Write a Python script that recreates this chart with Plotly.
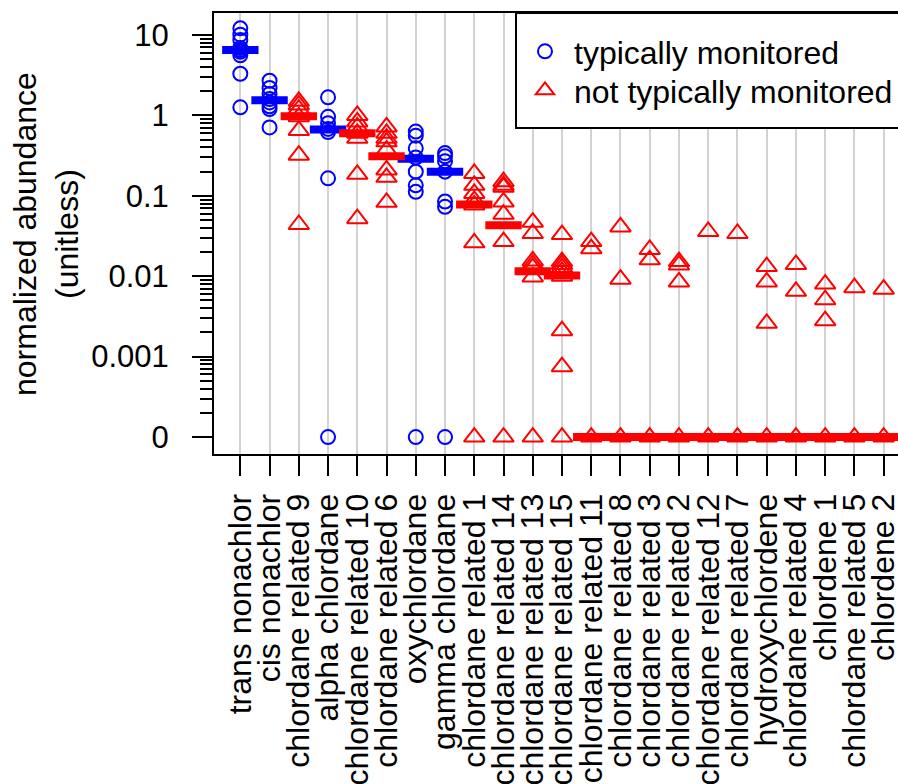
import plotly.graph_objects as go

# ---------------- data ----------------
categories = ["trans nonachlor", "cis nonachlor", "chlordane related 9", "alpha chlordane",
              "chlordane related 10", "chlordane related 6", "oxychlordane", "gamma chlordane",
              "chlordane related 1", "chlordane related 14", "chlordane related 13",
              "chlordane related 15", "chlordane related 11", "chlordane related 8",
              "chlordane related 3", "chlordane related 2", "chlordane related 12",
              "chlordane related 7", "hydroxychlordene", "chlordane related 4",
              "chlordene 1", "chlordane related 5", "chlordene 2"]

# group: True = typically monitored
typically_monitored = [True, True, False, True, False, False, True, True,
                       False, False, False, False, False, False, False, False,
                       False, False, False, False, False, False, False]

values = [
    [12.1, 10.1, 8.7, 6.9, 6.5, 6.2, 5.6, 3.3, 1.26],          # trans nonachlor
    [2.7, 2.2, 1.85, 1.6, 1.45, 1.3, 1.2, 0.71],               # cis nonachlor
    [1.5, 1.35, 1.2, 0.96, 0.65, 0.32, 0.044],                 # chlordane related 9
    [1.68, 0.96, 0.8, 0.68, 0.62, 0.165, 0],                   # alpha chlordane
    [1.0, 0.83, 0.72, 0.6, 0.52, 0.185, 0.052],                # chlordane related 10
    [0.72, 0.6, 0.52, 0.47, 0.37, 0.21, 0.17, 0.083],          # chlordane related 6
    [0.63, 0.56, 0.39, 0.3, 0.2, 0.135, 0.112, 0],             # oxychlordane
    [0.34, 0.31, 0.27, 0.2, 0.085, 0.073, 0],                  # gamma chlordane
    [0.19, 0.135, 0.107, 0.088, 0.077, 0.026, 0],              # chlordane related 1
    [0.15, 0.135, 0.128, 0.084, 0.059, 0.027, 0],              # chlordane related 14
    [0.047, 0.034, 0.0155, 0.014, 0.0128, 0.0098, 0],          # chlordane related 13
    [0.033, 0.0152, 0.014, 0.0128, 0.0115, 0.01, 0.0021, 0.00075, 0],  # chlordane related 15
    [0.027, 0.022, 0],                                         # chlordane related 11
    [0.041, 0.0092, 0],                                        # chlordane related 8
    [0.0215, 0.016, 0],                                        # chlordane related 3
    [0.0152, 0.0138, 0.0085, 0],                               # chlordane related 2
    [0.036, 0],                                                # chlordane related 12
    [0.034, 0],                                                # chlordane related 7
    [0.0132, 0.0085, 0.0026, 0],                               # hydroxychlordene
    [0.014, 0.0065, 0],                                        # chlordane related 4
    [0.008, 0.0051, 0.0028, 0],                                # chlordene 1
    [0.0072, 0],                                               # chlordane related 5
    [0.0069, 0],                                               # chlordene 2
]

medians = [6.5, 1.55, 0.98, 0.67, 0.6, 0.31, 0.29, 0.2, 0.078, 0.043, 0.0115, 0.0102,
           0, 0, 0, 0, 0, 0, 0, 0, 0, 0, 0]

tick_values = [0, 0.001, 0.01, 0.1, 1, 10]
tick_labels = ["0", "0.001", "0.01", "0.1", "1", "10"]

ZERO_POS = 1e-4  # where "0" is drawn on the log axis


def to_axis(v):
    return ZERO_POS if v == 0 else v


BLUE = "#0000FF"
RED = "#FF0000"
FONT = "Liberation Sans, Arial, Helvetica, sans-serif"

W, H = 898, 784
ML, MR, MT, MB = 214, 0, 13, 330
PW, PH = W - ML - MR, H - MT - MB


def px_x(p):
    return (p - ML) / PW


def px_y(p):
    return (MT + PH - p) / PH


# ---------------- figure ----------------
fig = go.Figure()

for flag, name, sym, col, size, leg in [(True, "typically monitored", "circle-open", BLUE, 14, "legend"),
                                        (False, "not typically monitored", "triangle-up-open", RED, 18, "legend2")]:
    xs, ys = [], []
    for i, (vals, tm) in enumerate(zip(values, typically_monitored)):
        if tm == flag:
            xs += [i + 1] * len(vals)
            ys += [to_axis(v) for v in vals]
    fig.add_trace(go.Scatter(x=xs, y=ys, mode="markers", name=name, legend=leg,
                             marker=dict(symbol=sym, size=size, color=col,
                                         line=dict(color=col, width=2))))

for flag, col in [(True, BLUE), (False, RED)]:
    xs = [i + 1 for i, tm in enumerate(typically_monitored) if tm == flag]
    ys = [to_axis(medians[i]) for i, tm in enumerate(typically_monitored) if tm == flag]
    fig.add_trace(go.Scatter(x=xs, y=ys, mode="markers", showlegend=False, hoverinfo="skip",
                             marker=dict(symbol="line-ew", size=26, color=col,
                                         line=dict(color=col, width=8))))

# minor ticks on the log axis
minor_vals = []
for d in [1e-4, 1e-3, 1e-2, 1e-1, 1]:
    for k in range(2, 10):
        minor_vals.append(k * d)

leg_common = dict(xanchor="left", yanchor="top", bgcolor="rgba(0,0,0,0)", borderwidth=0,
                  font=dict(size=32), itemwidth=48, tracegroupgap=0)

fig.update_layout(
    width=W, height=H,
    margin=dict(l=ML, r=MR, t=MT, b=MB, pad=0, autoexpand=False),
    paper_bgcolor="white", plot_bgcolor="white",
    font=dict(family=FONT, size=32, color="black"),
    showlegend=True,
    legend=dict(x=px_x(516), y=px_y(24), **leg_common),
    legend2=dict(x=px_x(516), y=px_y(63), **leg_common),
    xaxis=dict(range=[0.10, 23.49], tickmode="array",
               tickvals=list(range(1, len(categories) + 1)), ticktext=categories,
               tickangle=-90, ticks="outside", ticklen=20, tickwidth=2, tickcolor="black",
               showline=True, linecolor="black", linewidth=2, mirror=True,
               showgrid=True, gridcolor="#D3D3D3", gridwidth=2, zeroline=False,
               ticklabelstandoff=5, tickfont=dict(size=32), automargin=False,
               ticklabeloverflow="allow"),
    yaxis=dict(type="log", range=[-4.211, 1.274], tickmode="array",
               tickvals=[to_axis(v) for v in tick_values], ticktext=tick_labels,
               ticks="outside", ticklen=20, tickwidth=2, tickcolor="black",
               showline=True, linecolor="black", linewidth=2, mirror=False,
               showgrid=False, zeroline=False, ticklabelstandoff=17,
               tickfont=dict(size=31), automargin=False,
               minor=dict(tickmode="array", tickvals=minor_vals, ticks="outside",
                          ticklen=12, tickwidth=2, tickcolor="black", showgrid=False)),
    shapes=[dict(type="rect", xref="paper", yref="paper",
                 x0=px_x(516), x1=1.2, y0=px_y(128), y1=1.0,
                 line=dict(color="black", width=2), fillcolor="white", layer="above")],
    annotations=[dict(text="normalized abundance<br>(unitless)", textangle=-90,
                      xref="paper", yref="paper", x=px_x(46), y=px_y(234),
                      xanchor="center", yanchor="middle", showarrow=False,
                      font=dict(size=32))],
)

fig.write_html("out.html")
